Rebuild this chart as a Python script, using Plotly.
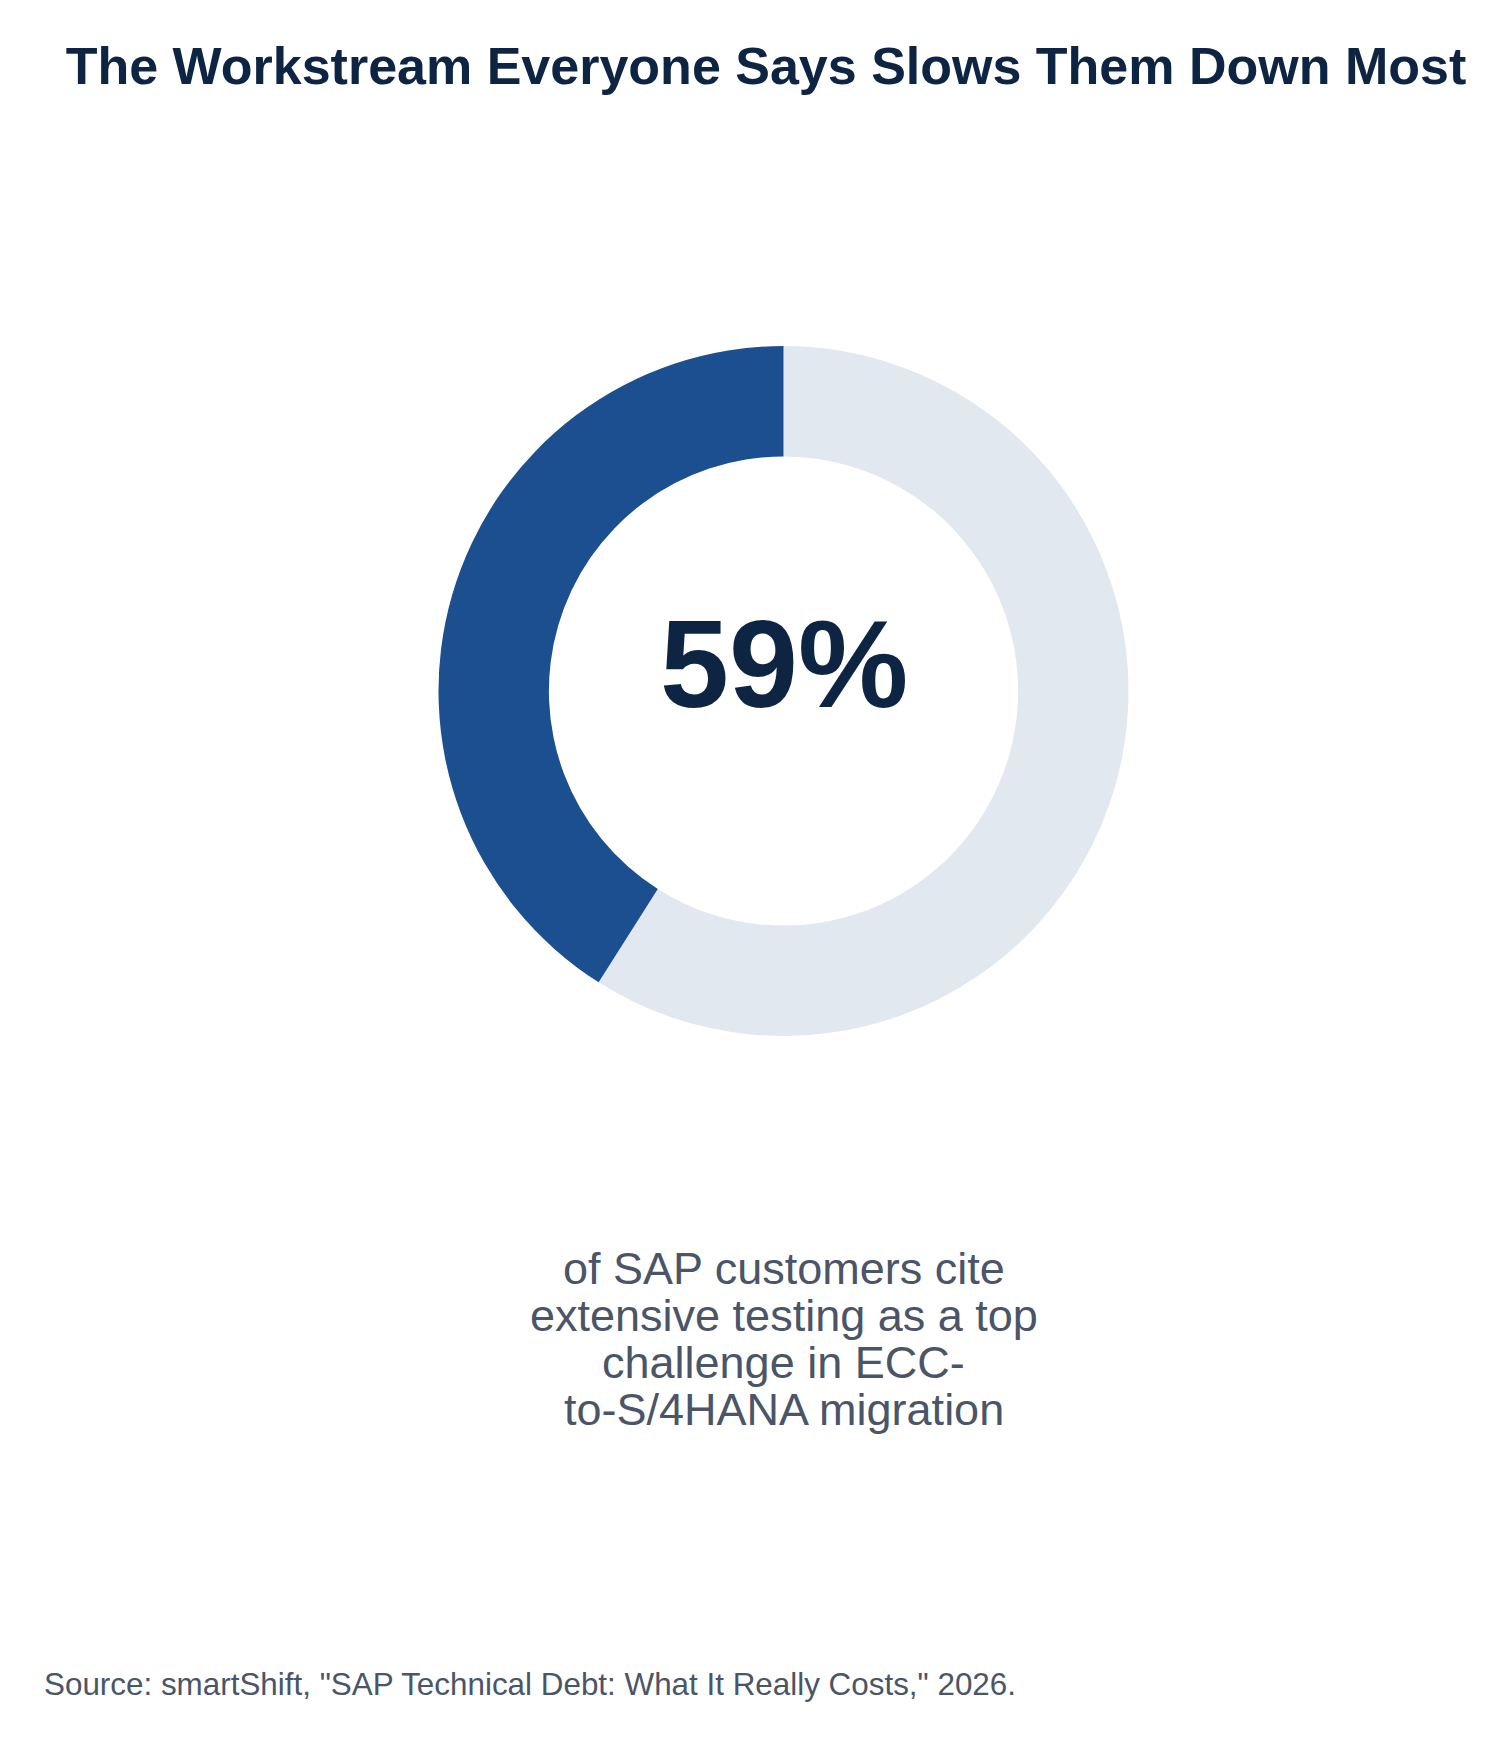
import plotly.graph_objects as go

# data
slice_labels = ["Cite extensive testing", "Other"]
slice_values = [59, 41]
slice_colors = ["#e2e8f0", "#1c4f8f"]

headline = "59%"
caption_lines = [
    "of SAP customers cite",
    "extensive testing as a top",
    "challenge in ECC-",
    "to-S/4HANA migration",
]
source_text = 'Source: smartShift, "SAP Technical Debt: What It Really Costs," 2026.'

W, H = 1511, 1745
ML, MR, MT, MB = 70, 30, 120, 100
plot_h = H - MT - MB


def py(px):
    # pixel row from the top -> paper y
    return 1 - (px - MT) / plot_h


font = "Liberation Sans, Arial, sans-serif"

fig = go.Figure(go.Pie(
    labels=slice_labels,
    values=slice_values,
    hole=0.68,
    sort=False,
    direction="clockwise",
    rotation=0,
    marker=dict(colors=slice_colors, line=dict(width=0)),
    textinfo="none",
    hoverinfo="label+percent",
    domain=dict(x=[0, 1], y=[py(1028), py(338)]),
    showlegend=False,
))

annotations = [
    dict(text="<b>%s</b>" % headline, x=0.5, y=py(656), xref="paper", yref="paper",
         showarrow=False, xanchor="center", yanchor="middle",
         font=dict(family=font, size=124, color="#0d2442")),
    dict(text=source_text, x=(34 - ML) / (W - ML - MR), y=py(1676),
         xref="paper", yref="paper", showarrow=False,
         xanchor="left", yanchor="middle",
         font=dict(family=font, size=31.4, color="#4a5568")),
]
for i, line in enumerate(caption_lines):
    annotations.append(dict(
        text=line, x=0.5, y=py(1260 + 47 * i), xref="paper", yref="paper",
        showarrow=False, xanchor="center", yanchor="middle",
        font=dict(family=font, size=45, color="#4a5568"),
    ))

fig.update_layout(
    width=W, height=H,
    margin=dict(l=ML, r=MR, t=MT, b=MB),
    paper_bgcolor="white",
    plot_bgcolor="white",
    title=dict(
        text="<b>The Workstream Everyone Says Slows Them Down Most</b>",
        x=758 / W, xanchor="center", y=1 - 58 / H, yanchor="middle",
        font=dict(family=font, size=52, color="#0d2442"),
    ),
    annotations=annotations,
)

fig.write_html("out.html")
